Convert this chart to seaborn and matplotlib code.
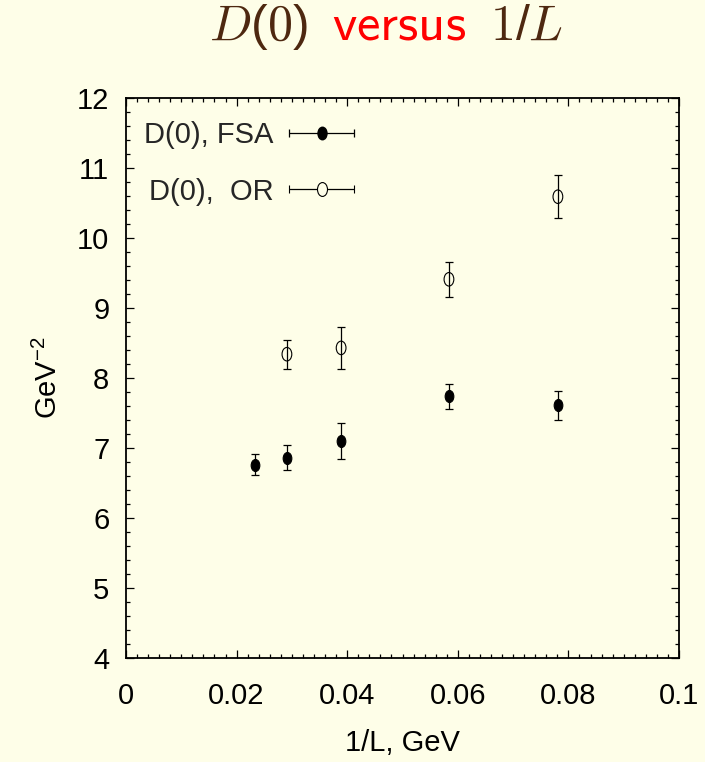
import numpy as np
import pandas as pd
import matplotlib
matplotlib.use("Agg")
import matplotlib.pyplot as plt
from matplotlib.path import Path
from matplotlib.ticker import MultipleLocator
from matplotlib.legend_handler import HandlerErrorbar
import seaborn as sns

# data
x_fsa = [0.0233, 0.0291, 0.0389, 0.0584, 0.0781]
y_fsa = [6.76, 6.86, 7.10, 7.74, 7.61]
e_fsa = [0.15, 0.18, 0.26, 0.18, 0.21]
x_or = [0.0291, 0.0389, 0.0584, 0.0781]
y_or = [8.34, 8.43, 9.41, 10.59]
e_or = [0.21, 0.30, 0.25, 0.31]
labels = ["D(0), FSA", "D(0),  OR"]

bg = "#fefee8"
brown = "#4e2810"

sns.set_theme(style="ticks")
plt.rcParams["font.family"] = ["Liberation Sans Narrow", "Liberation Sans", "DejaVu Sans"]
plt.rcParams["mathtext.fontset"] = "custom"
plt.rcParams["mathtext.rm"] = "Liberation Sans"
plt.rcParams["mathtext.it"] = "Liberation Sans:italic"
plt.rcParams["mathtext.default"] = "regular"

fig = plt.figure(figsize=(7.05, 7.62), dpi=100, facecolor=bg)
ax = fig.add_axes([126/705, 1-658/762, (679-126)/705, (658-98)/762])
ax.set_facecolor(bg)

ell = Path.unit_circle().transformed(matplotlib.transforms.Affine2D().scale(0.72, 1.0))

df_fsa = pd.DataFrame({"x": x_fsa, "y": y_fsa})
df_or = pd.DataFrame({"x": x_or, "y": y_or})

ax.errorbar(x_fsa, y_fsa, yerr=e_fsa, fmt="none", ecolor="black", elinewidth=0.9,
            capsize=3.2, capthick=0.9, zorder=2)
ax.errorbar(x_or, y_or, yerr=e_or, fmt="none", ecolor="black", elinewidth=0.9,
            capsize=3.2, capthick=0.9, zorder=2)
sns.scatterplot(data=df_fsa, x="x", y="y", ax=ax, marker=ell, s=75, color="black",
                edgecolor="black", linewidth=0.8, zorder=3, legend=False)
sns.scatterplot(data=df_or, x="x", y="y", ax=ax, marker=ell, s=95, facecolor="none",
                edgecolor="black", linewidth=0.8, zorder=3, legend=False)

# legend proxies
p1 = ax.errorbar([np.nan], [np.nan], xerr=[1], fmt="o", color="black", marker=ell,
                 ms=9, mfc="black", mec="black", elinewidth=0.9, capsize=3.2,
                 capthick=0.9, label=labels[0])
p2 = ax.errorbar([np.nan], [np.nan], xerr=[1], fmt="o", color="black", marker=ell,
                 ms=10, mfc=bg, mec="black", mew=0.8, elinewidth=0.9, capsize=3.2,
                 capthick=0.9, label=labels[1])
leg = ax.legend(handles=[p1, p2], labels=labels, loc="upper right",
                bbox_to_anchor=((352-126)/553 + 0.003, (658-121)/560), frameon=False,
                markerfirst=False, fontsize=21, handlelength=2.2, handletextpad=0.55,
                labelspacing=0.98, borderpad=0, borderaxespad=0,
                handler_map={type(p1): HandlerErrorbar(xerr_size=1.1)})

ax.set_xlim(0, 0.1)
ax.set_ylim(4, 12)
ax.xaxis.set_major_locator(MultipleLocator(0.02))
ax.xaxis.set_minor_locator(MultipleLocator(0.002))
ax.yaxis.set_major_locator(MultipleLocator(1))
ax.yaxis.set_minor_locator(MultipleLocator(0.2))
ax.xaxis.set_major_formatter(matplotlib.ticker.FuncFormatter(lambda v, p: f"{v:g}"))
ax.tick_params(which="both", direction="in", top=True, right=True, colors="black",
               labelsize=21, width=0.9)
ax.tick_params(which="major", length=6)
ax.tick_params(axis="x", which="major", pad=17)
ax.tick_params(axis="y", which="major", pad=12)
ax.tick_params(which="minor", length=3)
for s in ax.spines.values():
    s.set_linewidth(1.3)
    s.set_color("black")
ax.set_xlabel("1/L, GeV", fontsize=21, labelpad=14, color="black")
ax.set_ylabel("GeV$^{-2}$", fontsize=21, labelpad=10, color="black")

# title composed of colored pieces
fig.canvas.draw()
r = fig.canvas.get_renderer()
pieces = [(r"$\mathit{D}(\mathsf{0})$", brown, 36), (r"$\mathsf{versus}$", "red", 38),
          (r"$\mathsf{1}/\mathit{L}$", brown, 36)]
gap = 24
texts = []
for s_, c, fs in pieces:
    t = fig.text(0, 0, s_, color=c, fontsize=fs, math_fontfamily="cm", va="baseline", ha="left")
    texts.append(t)
widths = [t.get_window_extent(r).width for t in texts]
total = sum(widths) + gap * (len(widths) - 1)
xpos = 386 - total / 2
for t, w in zip(texts, widths):
    t.set_position((xpos / 705, 1 - 40 / 762))
    xpos += w + gap

fig.savefig("out.png", dpi=100, facecolor=bg)
